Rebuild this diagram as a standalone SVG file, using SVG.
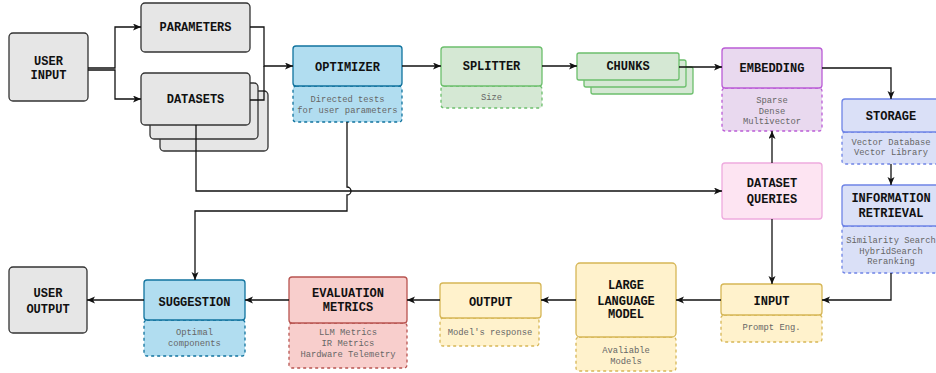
<svg xmlns="http://www.w3.org/2000/svg" width="936" height="373" viewBox="0 0 936 373">
<defs>
<style>
.h{font-family:"Liberation Mono","Courier New",monospace;font-weight:bold;font-size:12px;fill:#111;text-anchor:middle}
.s{font-family:"Liberation Mono","Courier New",monospace;font-size:8.8px;fill:#666;text-anchor:middle}
.sd{stroke-dasharray:3 3}
.gray{fill:#e6e6e6;stroke:#333;stroke-width:1.3}
.blue{fill:#b1ddf0;stroke:#10739e;stroke-width:1.3}
.green{fill:#d5e8d4;stroke:#6cbf6c;stroke-width:1.3}
.purple{fill:#e9d9ef;stroke:#bb5cd6;stroke-width:1.3}
.lav{fill:#dae0f7;stroke:#6f84e6;stroke-width:1.3}
.pink{fill:#fde4f2;stroke:#eeaade;stroke-width:1.3}
.yellow{fill:#fff2cc;stroke:#d6b656;stroke-width:1.3}
.red{fill:#f8cecc;stroke:#b85450;stroke-width:1.3}
.c{fill:none;stroke:#111;stroke-width:1.3}
.a{marker-end:url(#arr)}
</style>
<marker id="arr" markerUnits="userSpaceOnUse" markerWidth="10" markerHeight="8" refX="8" refY="3.5" orient="auto">
<path d="M0,0 L8,3.5 L0,7 L2,3.5 z" fill="#111"/>
</marker>
</defs>

<g id="user-input">
<rect class="gray" x="9" y="33" width="79" height="68" rx="4"/>
<text class="h" x="48.5" y="65">USER</text>
<text class="h" x="48.5" y="79">INPUT</text>
</g>

<g id="parameters">
<rect class="gray" x="141" y="3" width="109" height="49" rx="4"/>
<text class="h" x="195.5" y="31">PARAMETERS</text>
</g>

<g id="datasets">
<rect class="gray" x="160" y="91" width="108" height="60" rx="4"/>
<rect class="gray" x="150" y="83" width="108" height="56" rx="4"/>
<rect class="gray" x="141" y="73" width="109" height="52" rx="4"/>
<text class="h" x="195.5" y="103">DATASETS</text>
</g>

<g id="optimizer">
<rect class="blue sd" x="293" y="86" width="109" height="36" rx="3"/>
<rect class="blue" x="293" y="46" width="109" height="40" rx="3"/>
<text class="h" x="347.5" y="71">OPTIMIZER</text>
<text class="s" x="347.5" y="102">Directed tests</text>
<text class="s" x="347.5" y="113">for user parameters</text>
</g>

<g id="splitter">
<rect class="green sd" x="441" y="86" width="101" height="22" rx="3"/>
<rect class="green" x="441" y="47" width="101" height="39" rx="3"/>
<text class="h" x="491.5" y="70">SPLITTER</text>
<text class="s" x="491.5" y="100">Size</text>
</g>

<g id="chunks">
<rect class="green" x="591" y="67" width="102" height="27" rx="2"/>
<rect class="green" x="584" y="60" width="102" height="27" rx="2"/>
<rect class="green" x="577" y="53" width="102" height="27" rx="2"/>
<text class="h" x="628" y="70">CHUNKS</text>
</g>

<g id="embedding">
<rect class="purple sd" x="722" y="88" width="100" height="43" rx="3"/>
<rect class="purple" x="722" y="48" width="100" height="40" rx="3"/>
<text class="h" x="772" y="72">EMBEDDING</text>
<text class="s" x="772" y="103">Sparse</text>
<text class="s" x="772" y="114">Dense</text>
<text class="s" x="772" y="124">Multivector</text>
</g>

<g id="storage">
<rect class="lav sd" x="842" y="132" width="98" height="32" rx="3"/>
<rect class="lav" x="842" y="99" width="98" height="33" rx="3"/>
<text class="h" x="891" y="120">STORAGE</text>
<text class="s" x="891" y="145">Vector Database</text>
<text class="s" x="891" y="155">Vector Library</text>
</g>

<g id="information-retrieval">
<rect class="lav sd" x="842" y="226" width="98" height="47" rx="3"/>
<rect class="lav" x="842" y="185" width="98" height="41" rx="3"/>
<text class="h" x="891" y="202">INFORMATION</text>
<text class="h" x="891" y="217">RETRIEVAL</text>
<text class="s" x="891" y="243">Similarity Search</text>
<text class="s" x="891" y="254">HybridSearch</text>
<text class="s" x="891" y="264">Reranking</text>
</g>

<g id="dataset-queries">
<rect class="pink" x="722" y="163" width="100" height="56" rx="3"/>
<text class="h" x="772" y="187">DATASET</text>
<text class="h" x="772" y="203">QUERIES</text>
</g>

<g id="input">
<rect class="yellow sd" x="721" y="315" width="101" height="27" rx="3"/>
<rect class="yellow" x="721" y="284" width="101" height="31" rx="3"/>
<text class="h" x="771.5" y="305">INPUT</text>
<text class="s" x="771.5" y="330">Prompt Eng.</text>
</g>

<g id="llm">
<rect class="yellow sd" x="576" y="337" width="100" height="34" rx="3"/>
<rect class="yellow" x="576" y="263" width="100" height="74" rx="4"/>
<text class="h" x="626" y="289">LARGE</text>
<text class="h" x="626" y="305">LANGUAGE</text>
<text class="h" x="626" y="318">MODEL</text>
<text class="s" x="626" y="353">Avaliable</text>
<text class="s" x="626" y="364">Models</text>
</g>

<g id="output">
<rect class="yellow sd" x="440" y="318" width="99" height="28" rx="3"/>
<rect class="yellow" x="440" y="283" width="101" height="35" rx="3"/>
<text class="h" x="490.5" y="306">OUTPUT</text>
<text class="s" x="490" y="335">Model's response</text>
</g>

<g id="evaluation-metrics">
<rect class="red sd" x="289" y="323" width="118" height="45" rx="3"/>
<rect class="red" x="289" y="277" width="118" height="46" rx="3"/>
<text class="h" x="348" y="297">EVALUATION</text>
<text class="h" x="348" y="311">METRICS</text>
<text class="s" x="348" y="335">LLM Metrics</text>
<text class="s" x="348" y="346">IR Metrics</text>
<text class="s" x="348" y="357">Hardware Telemetry</text>
</g>

<g id="suggestion">
<rect class="blue sd" x="144" y="320" width="101" height="36" rx="3"/>
<rect class="blue" x="144" y="280" width="101" height="40" rx="3"/>
<text class="h" x="194.5" y="306">SUGGESTION</text>
<text class="s" x="194.5" y="335">Optimal</text>
<text class="s" x="194.5" y="346">components</text>
</g>

<g id="user-output">
<rect class="gray" x="9" y="267" width="78" height="66" rx="4"/>
<text class="h" x="48" y="297">USER</text>
<text class="h" x="48" y="313">OUTPUT</text>
</g>

<g id="connectors">
<path class="c a" d="M88,68 H115 V27 H141"/>
<path class="c a" d="M88,70 H115 V99 H141"/>
<path class="c a" d="M250,27 H264 V66 H293"/>
<path class="c" d="M250,100 H264 V66"/>
<path class="c a" d="M402,66 H441"/>
<path class="c a" d="M542,66 H577"/>
<path class="c a" d="M679,67 H722"/>
<path class="c a" d="M822,68 H891 V99"/>
<path class="c a" d="M891,164 V185"/>
<path class="c a" d="M891,273 V300 H822"/>
<path class="c a" d="M196,125 V191 H722"/>
<path class="c a" d="M772,163 V131"/>
<path class="c a" d="M772,219 V284"/>
<path class="c a" d="M721,300 H676"/>
<path class="c a" d="M576,300 H541"/>
<path class="c a" d="M440,300 H407"/>
<path class="c a" d="M289,300 H245"/>
<path class="c a" d="M144,300 H87"/>
<path class="c a" d="M347,122 V187 A4,4 0 0 1 347,195 V211 H195 V280"/>
</g>
</svg>
